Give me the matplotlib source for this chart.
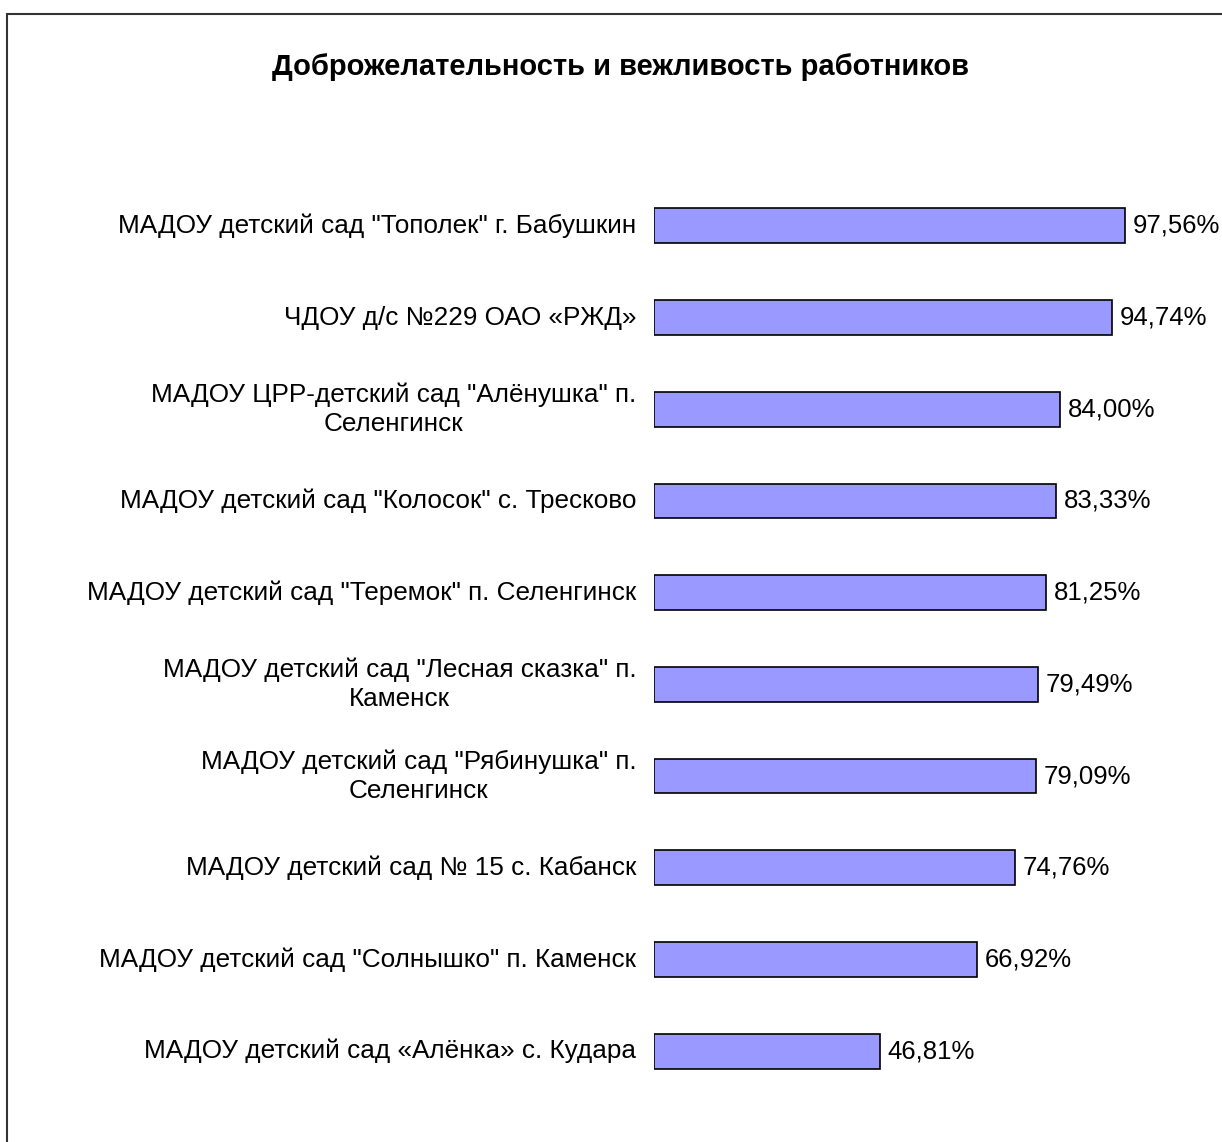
import matplotlib.pyplot as plt
from matplotlib.patches import Rectangle

plt.rcParams['font.family'] = ['Liberation Sans', 'DejaVu Sans']

# Подписи и значения (сверху вниз)
labels = [
    'МАДОУ детский сад "Тополек" г. Бабушкин',
    'ЧДОУ д/с №229 ОАО «РЖД»',
    'МАДОУ ЦРР-детский сад "Алёнушка" п.\nСеленгинск',
    'МАДОУ детский сад "Колосок" с. Тресково',
    'МАДОУ детский сад "Теремок" п. Селенгинск',
    'МАДОУ детский сад "Лесная сказка" п.\nКаменск',
    'МАДОУ детский сад "Рябинушка" п.\nСеленгинск',
    'МАДОУ детский сад № 15 с. Кабанск',
    'МАДОУ детский сад "Солнышко" п. Каменск',
    'МАДОУ детский сад «Алёнка» с. Кудара',
]
values = [97.56, 94.74, 84.00, 83.33, 81.25, 79.49, 79.09, 74.76, 66.92, 46.81]

W, H = 1222, 1142
fig = plt.figure(figsize=(W / 100, H / 100), dpi=100)
ax = fig.add_axes([654 / W, 1 - 1097 / H, (1137 - 654) / W, (1097 - 180) / H])

pos = list(range(len(values)))
ax.barh(pos, values, height=0.38, color='#9999FF', edgecolor='black', linewidth=1.2)
ax.set_xlim(0, 100)
ax.set_ylim(len(values) - 0.5, -0.5)

for p, v, lab in zip(pos, values, labels):
    ax.text(v + 1.6, p, f'{v:.2f}%'.replace('.', ','), va='center', ha='left', fontsize=18.5)
    ax.text(-3.7, p, lab, va='center', ha='right', multialignment='center',
            fontsize=18.8, linespacing=1.25)

ax.axis('off')

fig.text(620 / W, 1 - 67 / H, 'Доброжелательность и вежливость работников',
         ha='center', va='center', fontsize=21, fontweight='bold')

# рамка области диаграммы
fig.patches.append(Rectangle((7 / W, -0.1), 1.2, 1 - 14 / H + 0.1, transform=fig.transFigure,
                             fill=False, edgecolor='#333333', linewidth=1.5))

fig.savefig('out.png', dpi=100)
